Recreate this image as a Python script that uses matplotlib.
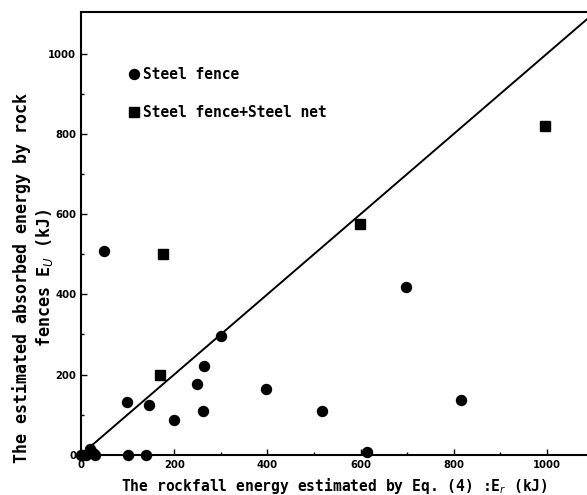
import numpy as np
import matplotlib
matplotlib.use("Agg")
import matplotlib.pyplot as plt

# Steel fence (circles)
fence_x = [0, 5, 10, 20, 25, 30, 50, 100, 98, 140, 145, 199, 250, 262, 265, 300, 398, 518, 614, 697, 815]
fence_y = [0, 0, 0, 15, 5, 0, 508, 0, 132, 0, 125, 87, 176, 108, 221, 295, 165, 109, 7, 417, 136]

# Steel fence + Steel net (squares)
net_x = [169, 175, 599, 996]
net_y = [200, 500, 575, 820]

line_x = [0, 1100]
line_y = [0, 1100]

ticks = [0, 200, 400, 600, 800, 1000]

fig = plt.figure(figsize=(5.87, 4.95), dpi=100)
ax = fig.add_axes([0.138, 0.0814, 0.862, 0.8944])

ax.plot(line_x, line_y, color='black', linewidth=1.4, zorder=2)
ax.plot(fence_x, fence_y, 'o', color='black', markersize=7.2, linestyle='none',
        label='Steel fence', zorder=3, clip_on=False)
ax.plot(net_x, net_y, 's', color='black', markersize=6.5, linestyle='none',
        label='Steel fence+Steel net', zorder=3)

ax.set_xlim(0, 1086)
ax.set_ylim(0, 1104)
ax.set_xticks(ticks)
ax.set_yticks(ticks)
ax.set_xticks(np.arange(100, 1100, 100), minor=True)
ax.set_yticks(np.arange(100, 1100, 100), minor=True)
ax.tick_params(which='both', direction='in', width=1.0)
ax.tick_params(which='major', length=4, labelsize=8)
ax.tick_params(axis='x', which='major', pad=4)
ax.tick_params(which='minor', length=2)
for lab in ax.get_xticklabels() + ax.get_yticklabels():
    lab.set_fontweight('bold')
    lab.set_fontstretch('condensed')

for side in ['left', 'bottom', 'top']:
    ax.spines[side].set_linewidth(1.5)
ax.spines['right'].set_visible(False)

mono = 'DejaVu Sans Mono'
ax.set_xlabel('The rockfall energy estimated by Eq. (4) :E$_r$ (kJ)',
              fontfamily=mono, fontweight='bold', fontsize=10.5)
ax.xaxis.set_label_coords(0.5, -0.048)
ax.set_ylabel('The estimated absorbed energy by rock\nfences E$_U$ (kJ)',
              fontfamily=mono, fontweight='bold', fontsize=12,
              linespacing=1.15)
ax.yaxis.set_label_coords(-0.052, 0.40)

ax.legend(loc='upper left', bbox_to_anchor=(0.07, 0.905), frameon=False,
          handlelength=0.6, handletextpad=0.3, labelspacing=1.6,
          prop={'family': mono, 'weight': 'bold', 'size': 10.5})

fig.savefig('out.png', dpi=100)
